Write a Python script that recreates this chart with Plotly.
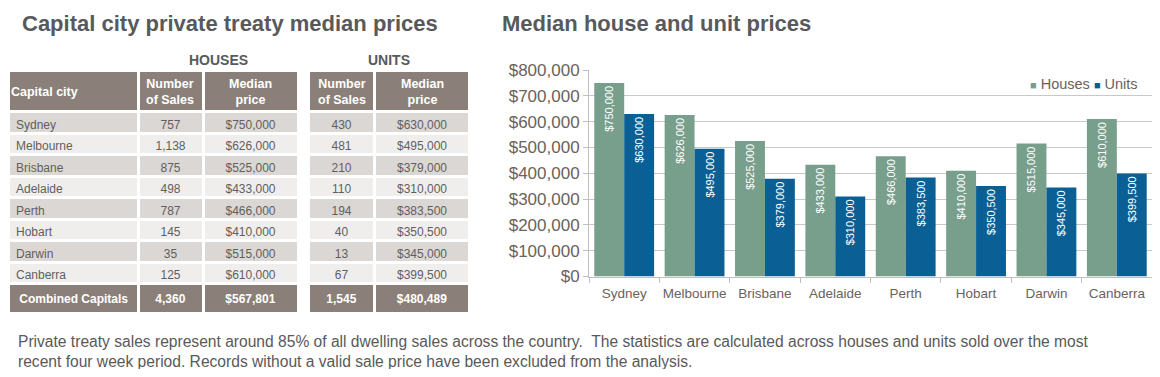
import plotly.graph_objects as go

# Page has an 8px body margin; figure is sized to fit the window inside it.
OFF = 8
W, H = 1160 - 2 * OFF, 377 - 2 * OFF

cities = ["Sydney", "Melbourne", "Brisbane", "Adelaide", "Perth", "Hobart", "Darwin", "Canberra"]
house_sales = ["757", "1,138", "875", "498", "787", "145", "35", "125"]
house_price = [750000, 626000, 525000, 433000, 466000, 410000, 515000, 610000]
unit_sales = ["430", "481", "210", "110", "194", "40", "13", "67"]
unit_price = [630000, 495000, 379000, 310000, 383500, 350500, 345000, 399500]
combined_label = "Combined Capitals"
combined_house = ["4,360", "$567,801"]
combined_unit = ["1,545", "$480,489"]
header_labels = ["Capital city", "Number<br>of Sales", "Median<br>price", "Number<br>of Sales", "Median<br>price"]
group_labels = ["HOUSES", "UNITS"]
y_ticks = [0, 100000, 200000, 300000, 400000, 500000, 600000, 700000, 800000]

HEAD = "#8b8079"
ROW_DARK = "#dad7d5"
ROW_LIGHT = "#efeeed"
TXT = "#5f5f5f"
AX_TXT = "#6b625c"
TITLE_C = "#58595b"
HOUSE_C = "#789e8c"
UNIT_C = "#0a5f94"

def px_x(v):
    return max(0.0, min(1.0, (v - OFF) / W))

def px_y(v):
    return max(0.0, min(1.0, 1 - (v - OFF) / H))

def money(v):
    return "${:,.0f}".format(v)

n = len(cities)
row_fill = [ROW_DARK if i % 2 == 0 else ROW_LIGHT for i in range(n)] + [HEAD]
row_font = [TXT] * n + ["white"]

fig = go.Figure()

# Houses table (with city column); header text is drawn as annotations below
fig.add_trace(go.Table(
    domain=dict(x=[px_x(3.5), px_x(298.5)], y=[0.05, px_y(70.5)]),
    columnwidth=[130, 65, 95],
    header=dict(
        values=["", "", ""],
        fill_color=HEAD, line=dict(color="white", width=3),
        font=dict(color="white", size=12, family="Arial"),
        height=41,
    ),
    cells=dict(
        values=[
            cities + ["\u00a0<b>" + combined_label.replace(" ", "\u00a0") + "</b>"],
            house_sales + ["<b>" + combined_house[0] + "</b>"],
            [money(v) for v in house_price] + ["<b>" + combined_house[1] + "</b>"],
        ],
        fill_color=[row_fill, row_fill, row_fill],
        line=dict(color="white", width=3),
        font=dict(color=[row_font] * 3, size=12, family="Arial"),
        align=["left", "center", "center"],
        height=21.5,
    ),
))

# Units table
fig.add_trace(go.Table(
    domain=dict(x=[px_x(308.5), px_x(469.5)], y=[0.05, px_y(70.5)]),
    columnwidth=[66, 95],
    header=dict(
        values=["", ""],
        fill_color=HEAD, line=dict(color="white", width=3),
        font=dict(color="white", size=12, family="Arial"),
        height=41,
    ),
    cells=dict(
        values=[
            unit_sales + ["<b>" + combined_unit[0] + "</b>"],
            [money(v) for v in unit_price] + ["<b>" + combined_unit[1] + "</b>"],
        ],
        fill_color=[row_fill, row_fill],
        line=dict(color="white", width=3),
        font=dict(color=[row_font] * 2, size=12, family="Arial"),
        align="center",
        height=21.5,
    ),
))

fig.add_trace(go.Bar(
    x=cities, y=house_price, name="Houses", marker_color=HOUSE_C,
    text=[money(v) for v in house_price], textposition="inside",
    insidetextanchor="end", textangle=-90,
    textfont=dict(color="white", size=11, family="Arial"),
))
fig.add_trace(go.Bar(
    x=cities, y=unit_price, name="Units", marker_color=UNIT_C,
    text=[money(v) for v in unit_price], textposition="inside",
    insidetextanchor="end", textangle=-90,
    textfont=dict(color="white", size=11, family="Arial"),
))

fig.update_layout(
    template="none",
    width=W, height=H,
    margin=dict(l=0, r=0, t=0, b=0, pad=0, autoexpand=False),
    paper_bgcolor="white", plot_bgcolor="white",
    barmode="group", bargap=0.15, bargroupgap=0,
    uniformtext=dict(minsize=8, mode="show"),
    font=dict(family="Arial", color=TXT),
    showlegend=False,
    xaxis=dict(
        domain=[px_x(589), px_x(1153)],
        showgrid=False,
        showline=True, linecolor="#bfbfbf", linewidth=1,
        ticks="outside", ticklen=5, tickcolor="#bfbfbf",
        tickson="boundaries", tickangle=0, ticklabelstandoff=4,
        tickfont=dict(size=13.5, color=AX_TXT),
        anchor="y", automargin=False,
    ),
    yaxis=dict(
        domain=[px_y(276.5), px_y(70)],
        range=[0, 800000], tickvals=y_ticks,
        ticktext=[money(v) for v in y_ticks],
        showgrid=True, gridcolor="#c8c8c8", gridwidth=1,
        showline=True, linecolor="#bfbfbf", linewidth=1,
        ticks="outside", ticklen=5, tickcolor="#bfbfbf",
        tickfont=dict(size=17, color=AX_TXT),
        zeroline=False, anchor="x", automargin=False,
    ),
)

legend_text = ('<span style="color:%s;font-size:11px">■</span> Houses '
               '<span style="color:%s;font-size:11px">■</span> Units') % (HOUSE_C, UNIT_C)

annotations = [
    dict(text="<b>Capital city private treaty median prices</b>", x=px_x(20), y=px_y(23),
         xanchor="left", yanchor="middle", font=dict(size=22, color=TITLE_C)),
    dict(text="<b>Median house and unit prices</b>", x=px_x(500), y=px_y(23),
         xanchor="left", yanchor="middle", font=dict(size=22, color=TITLE_C)),
    dict(text="<b>%s</b>" % group_labels[0], x=px_x(218), y=px_y(60), xanchor="center", yanchor="middle",
         font=dict(size=14, color=TITLE_C)),
    dict(text="<b>%s</b>" % group_labels[1], x=px_x(389), y=px_y(60), xanchor="center", yanchor="middle",
         font=dict(size=14, color=TITLE_C)),
    dict(text="<b>%s</b>" % header_labels[0], x=px_x(8.5), y=px_y(92), xanchor="left", yanchor="middle",
         font=dict(size=12.5, color="white")),
    dict(text=legend_text, x=px_x(1140), y=px_y(84), xanchor="right", yanchor="middle",
         font=dict(size=14.5, color=AX_TXT)),
    dict(text="Private treaty sales represent around 85% of all dwelling sales across the country.  "
              "The statistics are calculated across houses and units sold over the most<br>"
              "recent four week period. Records without a valid sale price have been excluded from the analysis.",
         x=px_x(17), y=px_y(351), xanchor="left", yanchor="middle", align="left",
         font=dict(size=15.6, color="#595959"), borderpad=0),
]
header_centers = [170, 250.5, 341.5, 422]
for label, cx in zip(header_labels[1:], header_centers):
    annotations.append(dict(text="<b>%s</b>" % label, x=px_x(cx), y=px_y(92),
                            xanchor="center", yanchor="middle", align="center",
                            font=dict(size=12.5, color="white")))
for a in annotations:
    a.update(xref="paper", yref="paper", showarrow=False)
fig.update_layout(annotations=annotations)

fig.write_html("out.html")
